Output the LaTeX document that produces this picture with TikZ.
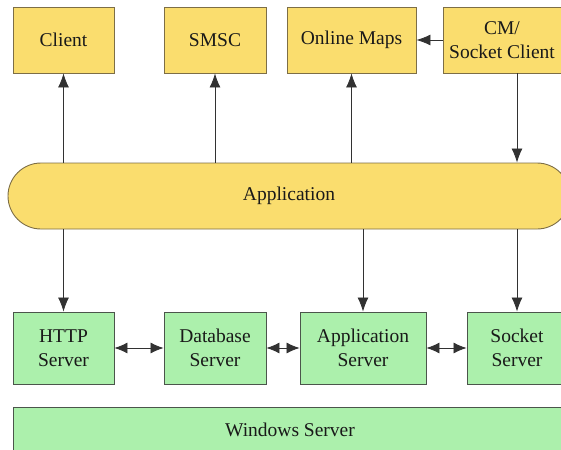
\documentclass[tikz,border=0pt]{standalone}
\usepackage{fontspec}
\setmainfont{Liberation Serif}[Ligatures=TeX]
\usetikzlibrary{arrows.meta}

\definecolor{boxyellow}{RGB}{250,221,110}
\definecolor{boxgreen}{RGB}{172,240,172}
\definecolor{edgeyellow}{RGB}{125,110,70}
\definecolor{edgegreen}{RGB}{75,85,75}
\definecolor{linegray}{RGB}{50,50,50}

\tikzset{
  upbox/.style={draw=edgeyellow, fill=boxyellow, line width=0.9pt, inner sep=0pt,
    minimum height=66pt, align=center, text=black!90},
  lowbox/.style={draw=edgegreen, fill=boxgreen, line width=0.9pt, inner sep=0pt,
    minimum height=72pt, align=center, text=black!90},
  arr/.style={draw=linegray, line width=0.8pt, -{Latex[length=14pt,width=11pt]}},
  dbl/.style={draw=linegray, line width=0.8pt, {Latex[length=13pt,width=11pt]}-{Latex[length=13pt,width=11pt]}}
}

\begin{document}
\begin{tikzpicture}[x=1pt, y=-1pt, font=\rmfamily\fontsize{19.5}{24}\selectfont]

\useasboundingbox (0,0) rectangle (561,449);

% top row
\node[upbox, minimum width=101pt] (client) at (63.5,40) {Client};
\node[upbox, minimum width=102pt] (smsc) at (215,40) {SMSC};
\node[upbox, minimum width=129pt] (maps) at (351.5,40) {Online Maps};
\node[upbox, minimum width=118pt] (cm) at (502,40) {CM/\\Socket Client};

% application bus
\node[upbox, minimum width=562pt, rounded corners=33pt] (app) at (289,196) {Application};

% servers
\node[lowbox, minimum width=101pt] (http) at (63.5,348) {HTTP\\Server};
\node[lowbox, minimum width=102pt] (db) at (215,348) {Database\\Server};
\node[lowbox, minimum width=126pt] (appsrv) at (363,348) {Application\\Server};
\node[lowbox, minimum width=100pt] (sock) at (517,348) {Socket\\Server};
\node[lowbox, minimum width=554pt, minimum height=46pt] (win) at (290,430) {Windows Server};

% connectors
\draw[arr] (app.north -| client) -- (client.south);
\draw[arr] (app.north -| smsc) -- (smsc.south);
\draw[arr] (app.north -| maps) -- (maps.south);
\draw[arr] (cm.west) -- (maps.east);
\draw[arr] (cm.south -| sock) -- (app.north -| sock);

\draw[arr] (app.south -| http) -- (http.north);
\draw[arr] (app.south -| appsrv) -- (appsrv.north);
\draw[arr] (app.south -| sock) -- (sock.north);

\draw[dbl] (http) -- (db);
\draw[dbl] (db) -- (appsrv);
\draw[dbl] (appsrv) -- (sock);

\end{tikzpicture}
\end{document}
